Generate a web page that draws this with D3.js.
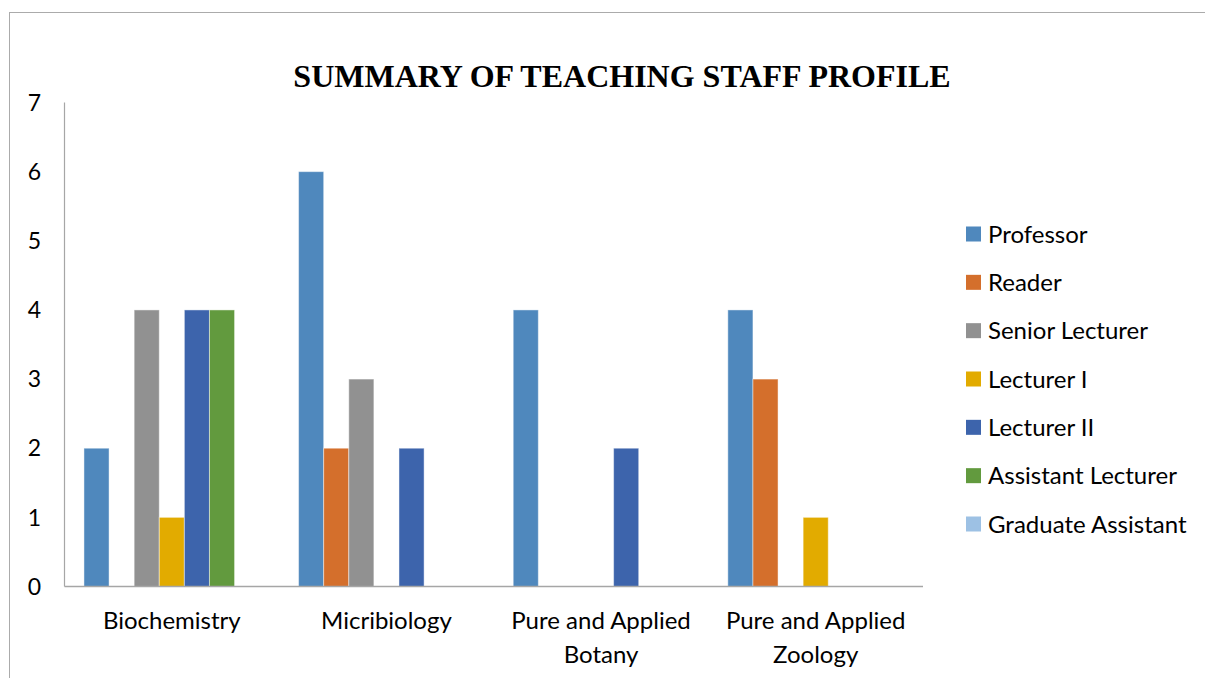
<!DOCTYPE html>
<html>
<head>
<meta charset="utf-8">
<script src="https://cdn.jsdelivr.net/npm/d3@7"></script>
<style>
  body { margin: 0; background: #fff; }
  svg { display: block; }
  text { font-family: Lato, "Open Sans", sans-serif; fill: #000; }
</style>
</head>
<body>
<svg id="chart" width="1205" height="678"></svg>
<script>
const departments = ["Biochemistry", "Micribiology", "Pure and Applied Botany", "Pure and Applied Zoology"];
const departmentLines = [["Biochemistry"], ["Micribiology"], ["Pure and Applied", "Botany"], ["Pure and Applied", "Zoology"]];
const ranks = ["Professor", "Reader", "Senior Lecturer", "Lecturer I", "Lecturer II", "Assistant Lecturer", "Graduate Assistant"];
const rankColors = ["#4f88bd", "#d46f2c", "#919191", "#e2ab00", "#3d64ac", "#629a3e", "#9dc1e4"];

const professor = [2, 6, 4, 4];
const reader = [0, 2, 0, 3];
const seniorLecturer = [4, 3, 0, 0];
const lecturerI = [1, 0, 0, 1];
const lecturerII = [4, 2, 2, 0];
const assistantLecturer = [4, 0, 0, 0];
const graduateAssistant = [0, 0, 0, 0];
const seriesValues = [professor, reader, seniorLecturer, lecturerI, lecturerII, assistantLecturer, graduateAssistant];

const yTicks = [0, 1, 2, 3, 4, 5, 6, 7];

let svg = d3.select("#chart");

// outer frame (cut off at the right and bottom like the source)
svg.append("rect")
  .attr("x", 9.5).attr("y", 12.5)
  .attr("width", 1300).attr("height", 800)
  .attr("fill", "none").attr("stroke", "#ababab").attr("stroke-width", 1);

let plot = {left: 64.5, right: 923, top: 102.5, bottom: 586.5};

let x0 = d3.scaleBand().domain(departments).range([plot.left, plot.right]).paddingInner(0).paddingOuter(0);
let barW = 25.1;
let x1 = d3.scaleBand().domain(ranks).range([0, barW * ranks.length]);
let y = d3.scaleLinear().domain([0, 7]).range([plot.bottom, plot.top]);

// bars
departments.forEach((dep, di) => {
  let groupStart = x0(dep) + (x0.bandwidth() - barW * ranks.length) / 2;
  let g = svg.append("g").attr("transform", "translate(" + groupStart + ",0)");
  g.selectAll("rect")
    .data(ranks.map((r, ri) => ({rank: r, value: seriesValues[ri][di], color: rankColors[ri]})).filter(d => d.value > 0))
    .enter().append("rect")
    .attr("x", d => x1(d.rank))
    .attr("y", d => y(d.value))
    .attr("width", x1.bandwidth())
    .attr("height", d => y(0) - y(d.value))
    .attr("fill", d => d.color)
    .attr("stroke", "rgba(255,255,255,0.45)")
    .attr("stroke-width", 1);
});

// axes lines
svg.append("line")
  .attr("x1", plot.left).attr("x2", plot.left)
  .attr("y1", plot.top).attr("y2", plot.bottom)
  .attr("stroke", "#a6a6a6").attr("stroke-width", 1.2);
svg.append("line")
  .attr("x1", plot.left).attr("x2", plot.right)
  .attr("y1", plot.bottom).attr("y2", plot.bottom)
  .attr("stroke", "#a6a6a6").attr("stroke-width", 1.5);

// y tick labels
svg.selectAll(".ytick")
  .data(yTicks)
  .enter().append("text")
  .attr("class", "ytick")
  .attr("x", 41)
  .attr("y", d => y(d))
  .attr("dy", "0.36em")
  .attr("text-anchor", "end")
  .style("font-size", "23px")
  .text(d => d);

// x labels
departments.forEach((dep, di) => {
  let t = svg.append("text")
    .attr("text-anchor", "middle")
    .style("font-size", "24px");
  departmentLines[di].forEach((line, li) => {
    t.append("tspan")
      .attr("x", x0(dep) + x0.bandwidth() / 2)
      .attr("y", 629 + li * 34)
      .text(line);
  });
});

// title
svg.append("text")
  .attr("x", 622)
  .attr("y", 87)
  .attr("text-anchor", "middle")
  .style("font-family", "'Liberation Serif', 'Times New Roman', serif")
  .style("font-weight", "bold")
  .style("font-size", "32px")
  .text("SUMMARY OF TEACHING STAFF PROFILE");

// legend
let legend = svg.append("g");
let legendY = d3.scalePoint().domain(ranks).range([234, 524]);
let items = legend.selectAll("g")
  .data(ranks)
  .enter().append("g")
  .attr("transform", d => "translate(966," + legendY(d) + ")");
items.append("rect")
  .attr("x", 0).attr("y", -7.5)
  .attr("width", 15).attr("height", 15)
  .attr("fill", (d, i) => rankColors[i]);
items.append("text")
  .attr("x", 22)
  .attr("dy", "0.36em")
  .style("font-size", "24px")
  .text(d => d);
</script>
</body>
</html>
